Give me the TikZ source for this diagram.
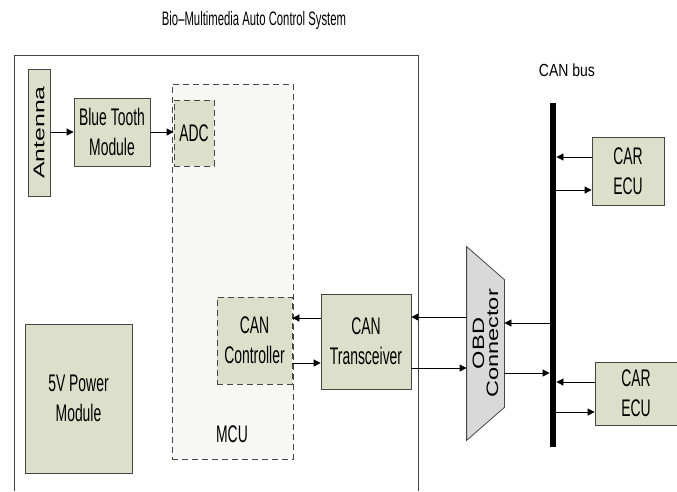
\documentclass[tikz,border=0pt]{standalone}
\usepackage{fontspec}
\setmainfont{Liberation Sans}
\newfontfamily\narrowsf{Liberation Sans}[FakeStretch=0.58]
\newfontfamily\bussf{Liberation Sans}[FakeStretch=0.8]
\newfontfamily\obdsf{Liberation Sans}[FakeStretch=1.43]
\newfontfamily\antsf{Liberation Sans}[FakeStretch=1.6]
\usetikzlibrary{arrows.meta}

\definecolor{boxfill}{RGB}{220,224,203}
\definecolor{mcufill}{RGB}{247,247,243}
\definecolor{obdfill}{RGB}{217,217,217}
\definecolor{edgegray}{RGB}{70,70,70}

\tikzset{
  block/.style={draw=edgegray,fill=boxfill,align=center,inner sep=0pt,
    font=\narrowsf\fontsize{24}{30}\selectfont},
  dashblock/.style={block,dash pattern=on 6pt off 4pt},
  plaintext/.style={font=\narrowsf\fontsize{19.5}{22}\selectfont},
}

\begin{document}
\begin{tikzpicture}[->,>={Triangle[length=7pt,width=7pt]},x=1pt,y=-1pt,
    line width=0.8pt]
  \useasboundingbox (0,0) rectangle (677,491);

  % system frame, open at the bottom
  \draw[-,edgegray,line width=1pt] (14,491) -- (14,55) -- (418,55) -- (418,491);
  \node[plaintext] (title) at (254,20) {Bio\textendash Multimedia Auto Control System};

  \node[dashblock,fill=mcufill,minimum width=121,minimum height=375] (mcu) at (232.5,271.5) {};
  \node[block,draw=none,fill=none] (mcutxt) at (232,434) {MCU};

  \node[block,minimum width=22,minimum height=127] (ant) at (39,132.5) {};
  \node[rotate=90,font=\antsf\fontsize{15.5}{17}\selectfont] (anttxt) at (ant) {Antenna};
  \node[block,minimum width=76,minimum height=68] (bt) at (112,132) {Blue Tooth\\Module};
  \node[dashblock,minimum width=40,minimum height=66] (adc) at (194,133) {ADC};
  \node[dashblock,minimum width=75,minimum height=87] (ctrl) at (254.5,340.5) {CAN\\Controller};
  \node[block,minimum width=90,minimum height=95] (trx) at (366,341.5) {CAN\\Transceiver};
  \node[block,minimum width=107,minimum height=149] (pwr) at (78.5,398.5) {5V Power\\Module};

  % OBD connector
  \node[minimum width=37,minimum height=193,inner sep=0pt] (obd) at (485.5,343.5) {};
  \draw[-,draw=edgegray,fill=obdfill] (obd.north west) -- ([yshift=-33pt]obd.north east)
    -- ([yshift=33pt]obd.south east) -- (obd.south west) -- cycle;
  \node[rotate=90,align=center,font=\obdsf\fontsize{16.5}{14}\selectfont] (obdtxt) at (obd) {OBD\\Connector};

  % CAN bus
  \node[fill=black,minimum width=6,minimum height=344,inner sep=0pt] (bus) at (553,275) {};
  \node[font=\bussf\fontsize{17.5}{20}\selectfont] (bustxt) at (567,70) {CAN bus};
  \node[block,minimum width=72,minimum height=68] (ecu1) at (628,171) {CAR\\ECU};
  \node[block,minimum width=82,minimum height=63] (ecu2) at (636,393.5) {CAR\\ECU};

  \path (ant.east |- 0,132) edge (bt.west |- 0,132)
  (bt.east |- 0,132) edge (adc.west |- 0,132)
  (trx.west |- 0,318) edge (ctrl.east |- 0,318)
  (ctrl.east |- 0,363) edge (trx.west |- 0,363)
  (obd.west |- 0,317) edge (trx.east |- 0,317)
  (trx.east |- 0,368) edge (obd.west |- 0,368)
  (bus.west |- 0,323) edge (obd.east |- 0,323)
  (obd.east |- 0,373) edge (bus.west |- 0,373);
  \path (ecu1.west |- 0,157) edge (bus.east |- 0,157)
  (bus.east |- 0,190) edge (ecu1.west |- 0,190)
  (ecu2.west |- 0,382) edge (bus.east |- 0,382)
  (bus.east |- 0,412) edge (ecu2.west |- 0,412);

\end{tikzpicture}
\end{document}
